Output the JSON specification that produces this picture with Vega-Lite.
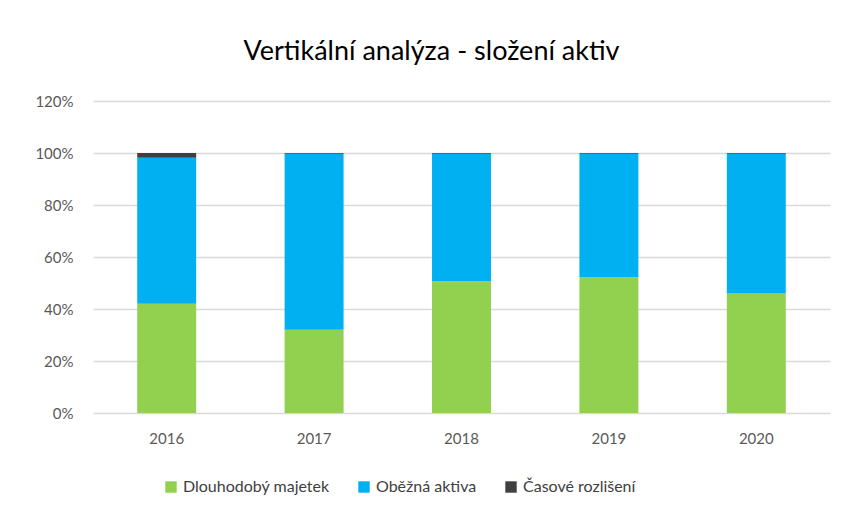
{
  "$schema": "https://vega.github.io/schema/vega-lite/v6.json",
  "width": 737,
  "height": 312,
  "autosize": {"type": "none"},
  "padding": {"left": 93, "top": 101, "right": 12, "bottom": 100},
  "background": "white",
  "title": {
    "text": "Vertikální analýza - složení aktiv",
    "font": "Lato",
    "fontSize": 27,
    "fontWeight": "normal",
    "color": "#000000",
    "anchor": "middle",
    "dx": -30,
    "offset": 28
  },
  "data": {
    "values": [
      {"rok": "2016", "slozka": "Dlouhodobý majetek", "poradi": 1, "podil": 0.420},
      {"rok": "2016", "slozka": "Oběžná aktiva", "poradi": 2, "podil": 0.562},
      {"rok": "2016", "slozka": "Časové rozlišení", "poradi": 3, "podil": 0.018},
      {"rok": "2017", "slozka": "Dlouhodobý majetek", "poradi": 1, "podil": 0.320},
      {"rok": "2017", "slozka": "Oběžná aktiva", "poradi": 2, "podil": 0.677},
      {"rok": "2017", "slozka": "Časové rozlišení", "poradi": 3, "podil": 0.003},
      {"rok": "2018", "slozka": "Dlouhodobý majetek", "poradi": 1, "podil": 0.507},
      {"rok": "2018", "slozka": "Oběžná aktiva", "poradi": 2, "podil": 0.490},
      {"rok": "2018", "slozka": "Časové rozlišení", "poradi": 3, "podil": 0.003},
      {"rok": "2019", "slozka": "Dlouhodobý majetek", "poradi": 1, "podil": 0.522},
      {"rok": "2019", "slozka": "Oběžná aktiva", "poradi": 2, "podil": 0.475},
      {"rok": "2019", "slozka": "Časové rozlišení", "poradi": 3, "podil": 0.003},
      {"rok": "2020", "slozka": "Dlouhodobý majetek", "poradi": 1, "podil": 0.460},
      {"rok": "2020", "slozka": "Oběžná aktiva", "poradi": 2, "podil": 0.537},
      {"rok": "2020", "slozka": "Časové rozlišení", "poradi": 3, "podil": 0.003}
    ]
  },
  "mark": {"type": "bar"},
  "encoding": {
    "x": {
      "field": "rok",
      "type": "nominal",
      "title": null,
      "scale": {"paddingInner": 0.6, "paddingOuter": 0.3},
      "axis": {
        "labelAngle": 0,
        "domain": false,
        "ticks": false,
        "labelPadding": 18,
        "labelFont": "Lato",
        "labelFontSize": 15,
        "labelColor": "#595959"
      }
    },
    "y": {
      "field": "podil",
      "type": "quantitative",
      "stack": "zero",
      "title": null,
      "scale": {"domain": [0, 1.2], "nice": false},
      "axis": {
        "values": [0, 0.2, 0.4, 0.6, 0.8, 1.0, 1.2],
        "format": ".0%",
        "domain": false,
        "ticks": false,
        "labelPadding": 20,
        "labelFont": "Lato",
        "labelFontSize": 15,
        "labelColor": "#595959",
        "gridColor": "#d9d9d9",
        "gridWidth": 1.3
      }
    },
    "color": {
      "field": "slozka",
      "type": "nominal",
      "scale": {
        "domain": ["Dlouhodobý majetek", "Oběžná aktiva", "Časové rozlišení"],
        "range": ["#92D050", "#00B0F0", "#404040"]
      },
      "legend": {
        "title": null,
        "orient": "none",
        "direction": "horizontal",
        "legendX": 70,
        "legendY": 378,
        "symbolType": "square",
        "symbolSize": 130,
        "symbolStrokeWidth": 0,
        "labelFont": "Lato",
        "labelFontSize": 16,
        "labelColor": "#404040",
        "columnPadding": 26,
        "labelOffset": 4
      }
    },
    "order": {"field": "poradi", "type": "quantitative"}
  },
  "config": {
    "view": {"stroke": null}
  }
}
